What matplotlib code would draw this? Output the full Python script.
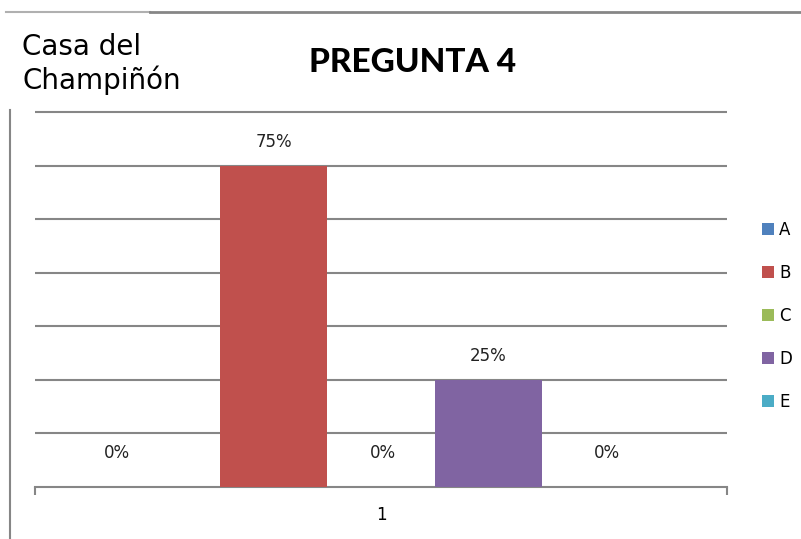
import numpy as np
import matplotlib
matplotlib.use('Agg')
import matplotlib.pyplot as plt
from matplotlib.lines import Line2D

series = ['A', 'B', 'C', 'D', 'E']
values = [0.0, 0.75, 0.0, 0.25, 0.0]
category = ['1']
colors = ['#4F81BD', '#C0504D', '#9BBB59', '#8064A2', '#4BACC6']

# label nudges in pixels (the zero labels sit off-centre in the original)
lab_dx = [-50, 0, 2, 0, 12]
lab_dy = [34, 24, 34, 24, 34]

fig = plt.figure(figsize=(8.01, 5.39), dpi=100)
ax = fig.add_axes([35/801, 1-487/539, 692/801, 377/539])

w = 0.2
x0 = np.arange(len(category))[0]
for i, (s, v, c) in enumerate(zip(series, values, colors)):
    xp = x0 + (i - 2) * w
    ax.bar(xp, v, width=w, color=c, label=s, zorder=3)
    ax.annotate('{:.0%}'.format(v), (xp, v), xytext=(lab_dx[i], lab_dy[i]),
                textcoords='offset pixels', ha='center', va='center',
                fontsize=12, color='#222222')

ax.set_xlim(x0 - 0.6467, x0 + 0.6467)
ax.set_ylim(0, 0.8797)
ax.set_yticks(np.arange(0.125, 0.876, 0.125))
ax.yaxis.grid(True, color='#868686', lw=1.5, zorder=0)
ax.tick_params(axis='y', length=0, labelleft=False)

ax.set_xticks([x0 - 0.6467, x0 + 0.6467], ['', ''])
ax.tick_params(axis='x', which='major', length=6, width=1.5, color='#868686')
ax.set_xticks([x0], category, minor=True)
ax.tick_params(axis='x', which='minor', length=0, pad=14, labelsize=12)

for sp in ['top', 'right', 'left']:
    ax.spines[sp].set_visible(False)
ax.spines['bottom'].set_color('#868686')
ax.spines['bottom'].set_linewidth(1.5)

ax.legend(loc='center left', bbox_to_anchor=(755/801, 1-316/539),
          bbox_transform=fig.transFigure, frameon=False, fontsize=12,
          handlelength=0.75, handleheight=0.75, handletextpad=0.3,
          labelspacing=1.5, borderaxespad=0)

fig.text(413/801, 1-62/539, 'PREGUNTA 4', ha='center', va='center',
         fontsize=24, fontweight='black', family=['Lato', 'DejaVu Sans'])
fig.text(22/801, 1-64/539, 'Casa del\nChampiñón', ha='left', va='center',
         fontsize=20, linespacing=1.22)

# frame lines from the slide
fig.add_artist(Line2D([6/801, 150/801], [1-12/539, 1-12/539], color='#b0b0b0', lw=1.5))
fig.add_artist(Line2D([150/801, 1], [1-12/539, 1-12/539], color='#868686', lw=2))
fig.add_artist(Line2D([10/801, 10/801], [1-110/539, 0], color='#868686', lw=1.5))

fig.savefig('out.png', dpi=100)
